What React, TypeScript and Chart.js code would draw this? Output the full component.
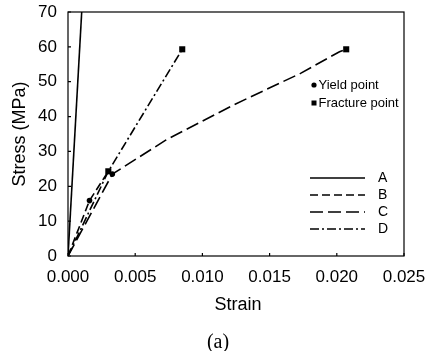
import React, { useEffect, useRef } from "react";
import { Chart, registerables } from "chart.js";
Chart.register(...registerables);

// ---- data ----
const strainA = [0, 0.00102];
const stressA = [0, 70];
const strainB = [0, 0.0016, 0.003];
const stressB = [0, 15.9, 24.3];
const strainC = [0, 0.0033, 0.0073, 0.0123, 0.0173, 0.0202, 0.0207];
const stressC = [0, 23.5, 33.3, 43.3, 52.4, 58.6, 59.3];
const strainD = [0, 0.003, 0.0085];
const stressD = [0, 24.3, 59.3];
const yieldStrain = [0.0016, 0.0033];
const yieldStress = [15.9, 23.5];
const fractureStrain = [0.003, 0.0085, 0.0207];
const fractureStress = [24.3, 59.3, 59.3];
const seriesLabels = ["A", "B", "C", "D"];
const markerLabels = ["Yield point", "Fracture point"];
const xTicks = [0, 0.005, 0.01, 0.015, 0.02, 0.025];
const yTicks = [0, 10, 20, 30, 40, 50, 60, 70];
const xTitle = "Strain";
const yTitle = "Stress (MPa)";
const caption = "(a)";

const FONT = "'Liberation Sans', Arial, Helvetica, sans-serif";
const dashes: number[][] = [[], [8, 4], [13, 5], [9, 3, 2, 3]];

const pts = (xs: number[], ys: number[]) => xs.map((x, i) => ({ x, y: ys[i] }));

const overlay = {
  id: "overlay",
  afterDraw(chart: any) {
    const { ctx, chartArea: ca, scales } = chart;
    ctx.save();
    ctx.strokeStyle = "#000";
    ctx.fillStyle = "#000";
    ctx.lineWidth = 1.2;
    ctx.setLineDash([]);
    ctx.strokeRect(ca.left, ca.top, ca.right - ca.left, ca.bottom - ca.top);
    // inward ticks
    ctx.beginPath();
    scales.x.ticks.forEach((t: any) => {
      const px = scales.x.getPixelForValue(t.value);
      ctx.moveTo(px, ca.bottom);
      ctx.lineTo(px, ca.bottom - 3);
    });
    scales.y.ticks.forEach((t: any) => {
      const py = scales.y.getPixelForValue(t.value);
      ctx.moveTo(ca.left, py);
      ctx.lineTo(ca.left + 3, py);
    });
    ctx.stroke();

    // axis titles
    ctx.font = `18px ${FONT}`;
    ctx.textAlign = "center";
    ctx.textBaseline = "middle";
    ctx.fillText(xTitle, (ca.left + ca.right) / 2 + 2, ca.bottom + 49);
    ctx.save();
    ctx.translate(20, (ca.top + ca.bottom) / 2);
    ctx.rotate(-Math.PI / 2);
    ctx.fillText(yTitle, 0, 0);
    ctx.restore();
    ctx.font = `20px 'Liberation Serif', 'Times New Roman', serif`;
    ctx.fillText(caption, (ca.left + ca.right) / 2 - 18, ca.bottom + 87);

    // marker legend
    ctx.font = `13px ${FONT}`;
    ctx.textAlign = "left";
    const mx = ca.right - 90;
    const my0 = ca.top + 73;
    ctx.beginPath();
    ctx.arc(mx, my0, 2.6, 0, Math.PI * 2);
    ctx.fill();
    ctx.fillText(markerLabels[0], mx + 4.5, my0);
    const my1 = my0 + 18;
    ctx.fillRect(mx - 2.5, my1 - 2.5, 5, 5);
    ctx.fillText(markerLabels[1], mx + 4.5, my1);

    // line legend
    ctx.font = `14px ${FONT}`;
    ctx.lineWidth = 1.5;
    seriesLabels.forEach((lab, i) => {
      const y = ca.top + 166 + i * 17;
      ctx.setLineDash(dashes[i]);
      ctx.beginPath();
      ctx.moveTo(ca.right - 94, y);
      ctx.lineTo(ca.right - 39, y);
      ctx.stroke();
      ctx.setLineDash([]);
      ctx.fillText(lab, ca.right - 26, y);
    });
    ctx.restore();
  },
};

export default function App() {
  const ref = useRef<HTMLCanvasElement>(null);
  useEffect(() => {
    if (!ref.current) return;
    const lineSets = [
      pts(strainA, stressA),
      pts(strainB, stressB),
      pts(strainC, stressC),
      pts(strainD, stressD),
    ].map((data, i) => ({
      label: seriesLabels[i],
      data,
      showLine: true,
      borderColor: "#000",
      borderWidth: 1.6,
      borderDash: dashes[i],
      pointRadius: 0,
      fill: false,
    }));
    const chart = new Chart(ref.current, {
      type: "scatter",
      data: {
        datasets: [
          ...lineSets,
          {
            label: markerLabels[0],
            data: pts(yieldStrain, yieldStress),
            pointStyle: "circle",
            pointRadius: 2.8,
            backgroundColor: "#000",
            borderColor: "#000",
            borderWidth: 0,
          } as any,
          {
            label: markerLabels[1],
            data: pts(fractureStrain, fractureStress),
            pointStyle: "rect",
            pointRadius: 4.3,
            backgroundColor: "#000",
            borderColor: "#000",
            borderWidth: 0,
          } as any,
        ],
      },
      options: {
        animation: false,
        responsive: true,
        maintainAspectRatio: false,
        layout: { padding: { left: 0, top: 12, right: 31, bottom: 0 } },
        plugins: { legend: { display: false }, tooltip: { enabled: false } },
        scales: {
          x: {
            type: "linear",
            min: 0,
            max: 0.025,
            afterBuildTicks: (s: any) => {
              s.ticks = xTicks.map((v) => ({ value: v }));
            },
            afterFit: (s: any) => {
              s.height = 95;
              s.paddingLeft = 0;
              s.paddingRight = 0;
            },
            grid: { display: false, drawTicks: false },
            border: { display: false },
            ticks: {
              padding: 11,
              color: "#000",
              font: { family: FONT, size: 17 },
              callback: (v: any) => Number(v).toFixed(3),
              maxRotation: 0,
            },
          },
          y: {
            type: "linear",
            min: 0,
            max: 70,
            afterBuildTicks: (s: any) => {
              s.ticks = yTicks.map((v) => ({ value: v }));
            },
            afterFit: (s: any) => {
              s.width = 68;
              s.paddingTop = 0;
              s.paddingBottom = 0;
            },
            grid: { display: false, drawTicks: false },
            border: { display: false },
            ticks: {
              padding: 11,
              color: "#000",
              font: { family: FONT, size: 17 },
            },
          },
        },
      },
      plugins: [overlay],
    });
    return () => chart.destroy();
  }, []);
  return (
    <div style={{ position: "fixed", left: 0, top: 0, width: 435, height: 351, background: "#fff" }}>
      <canvas ref={ref} />
    </div>
  );
}
